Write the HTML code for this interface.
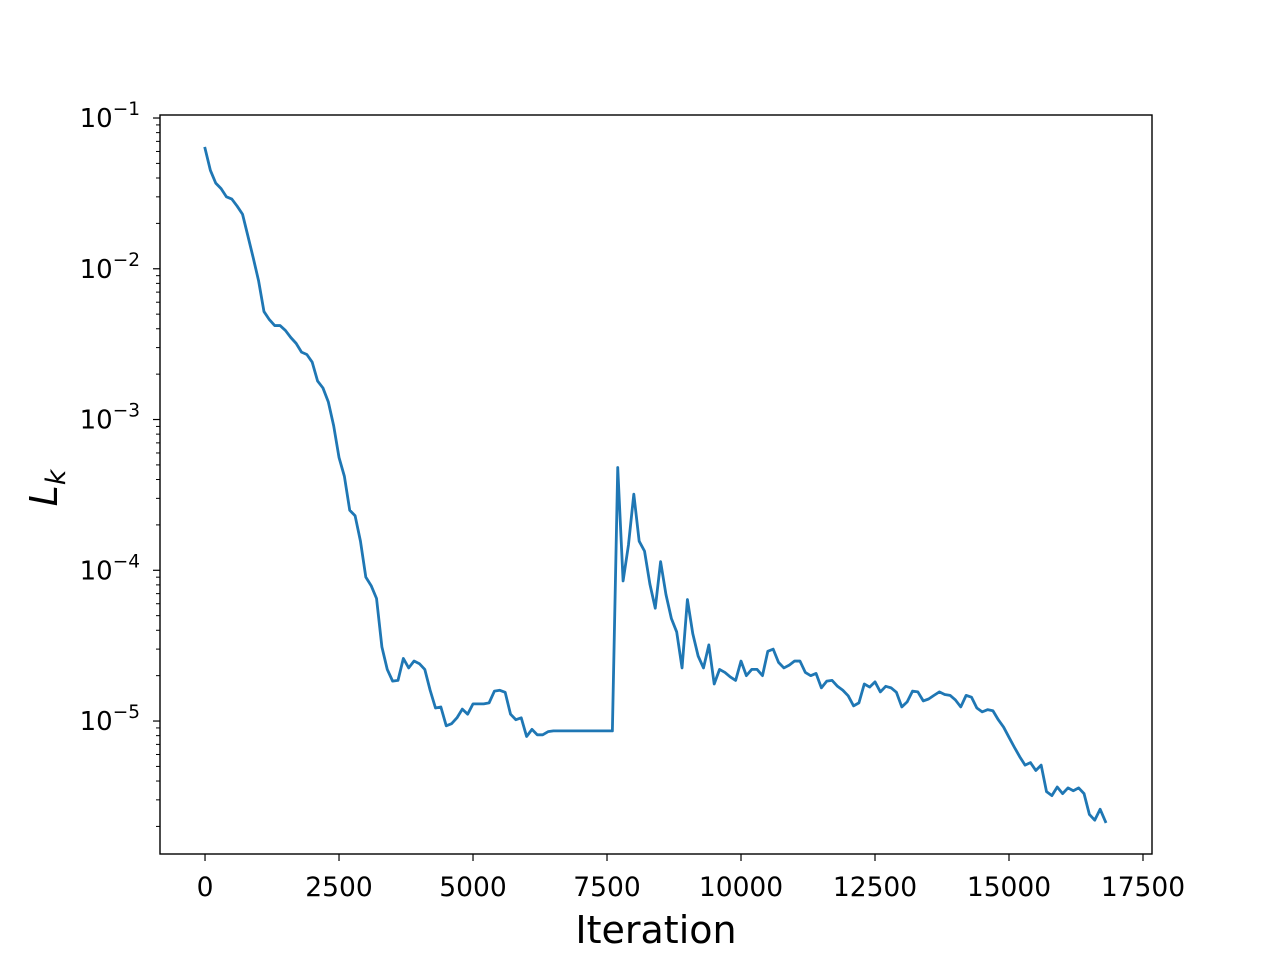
<!DOCTYPE html>
<html><head><meta charset="utf-8"><style>
html,body{margin:0;padding:0;background:#fff;}
svg{display:block;font-family:"DejaVu Sans","Liberation Sans",sans-serif;}
</style></head><body>
<svg id="chart" width="1280" height="960" xmlns="http://www.w3.org/2000/svg"></svg>
<script>
const xTicks = [0, 2500, 5000, 7500, 10000, 12500, 15000, 17500];
const xTickLabels = ["0","2500","5000","7500","10000","12500","15000","17500"];
const yTickExps = [-1, -2, -3, -4, -5];
const stepIter = 100;
const lossValues = [
6.3e-2,4.5e-2,3.7e-2,3.4e-2,3.0e-2,2.9e-2,2.6e-2,2.3e-2,1.65e-2,1.18e-2,
8.3e-3,5.2e-3,4.6e-3,4.2e-3,4.2e-3,3.9e-3,3.5e-3,3.2e-3,2.8e-3,2.7e-3,
2.4e-3,1.8e-3,1.62e-3,1.31e-3,9.1e-4,5.6e-4,4.2e-4,2.5e-4,2.3e-4,1.56e-4,
9.0e-5,7.9e-5,6.5e-5,3.1e-5,2.2e-5,1.84e-5,1.86e-5,2.6e-5,2.25e-5,2.5e-5,
2.4e-5,2.2e-5,1.6e-5,1.22e-5,1.24e-5,9.3e-6,9.6e-6,1.05e-5,1.2e-5,1.11e-5,
1.3e-5,1.3e-5,1.3e-5,1.32e-5,1.58e-5,1.6e-5,1.55e-5,1.11e-5,1.02e-5,1.05e-5,
7.9e-6,8.8e-6,8.1e-6,8.1e-6,8.5e-6,8.6e-6,
8.6e-6,8.6e-6,8.6e-6,8.6e-6,8.6e-6,8.6e-6,8.6e-6,8.6e-6,8.6e-6,8.6e-6,8.6e-6,
4.8e-4,8.5e-5,1.47e-4,3.2e-4,1.56e-4,1.34e-4,8.1e-5,5.6e-5,1.14e-4,6.9e-5,
4.8e-5,3.9e-5,2.25e-5,6.4e-5,3.8e-5,2.7e-5,2.25e-5,3.2e-5,1.76e-5,2.2e-5,
2.1e-5,1.96e-5,1.86e-5,2.5e-5,2.0e-5,2.2e-5,2.2e-5,2.0e-5,2.9e-5,3.0e-5,
2.45e-5,2.25e-5,2.35e-5,2.5e-5,2.5e-5,2.1e-5,2.0e-5,2.07e-5,1.66e-5,1.84e-5,
1.86e-5,1.7e-5,1.6e-5,1.47e-5,1.26e-5,1.32e-5,1.76e-5,1.68e-5,1.82e-5,1.56e-5,
1.7e-5,1.66e-5,1.55e-5,1.24e-5,1.34e-5,1.58e-5,1.56e-5,1.36e-5,1.4e-5,1.48e-5,
1.56e-5,1.5e-5,1.48e-5,1.38e-5,1.24e-5,1.48e-5,1.44e-5,1.22e-5,1.15e-5,1.19e-5,
1.17e-5,1.02e-5,9.1e-6,7.8e-6,6.7e-6,5.8e-6,5.1e-6,5.3e-6,4.7e-6,5.1e-6,
3.4e-6,3.2e-6,3.65e-6,3.3e-6,3.6e-6,3.45e-6,3.6e-6,3.3e-6,2.4e-6,2.2e-6,
2.6e-6,2.15e-6];
const iterations = lossValues.map((v,i)=>i*stepIter);

const svg = document.getElementById('chart');
const NS = 'http://www.w3.org/2000/svg';
const L=160,R=1152,T=115,B=854;
const xMin=-840,xMax=17668,yTop=-0.980,yBot=-5.882;
const xs = v => L + (v-xMin)/(xMax-xMin)*(R-L);
const ys = v => T + (yTop-Math.log10(v))/(yTop-yBot)*(B-T);
function mk(tag, attrs){const e=document.createElementNS(NS,tag);for(const k in attrs)e.setAttribute(k,attrs[k]);svg.appendChild(e);return e;}

const pts = iterations.map((x,i)=>xs(x).toFixed(2)+','+ys(lossValues[i]).toFixed(2)).join(' ');
const line = mk('polyline',{points:pts,fill:'none',stroke:'#1f77b4','stroke-width':2.8,'stroke-linejoin':'round','stroke-linecap':'square'});



const frame = mk('rect',{x:L,y:T,width:R-L,height:B-T,fill:'none',stroke:'#000','stroke-width':1.4});



xTicks.forEach((t,i)=>{
  const x=xs(t);
  const tk = mk('line',{x1:x,x2:x,y1:B,y2:B+7,stroke:'#000','stroke-width':1.2});
  
  
  const tx = mk('text',{x:x,y:B+42,'text-anchor':'middle','font-size':'26.5px',fill:'#000'});
  tx.textContent = xTickLabels[i];
  
  
});
yTickExps.forEach(e=>{
  const y=ys(Math.pow(10,e));
  const tk = mk('line',{x1:L-7,x2:L,y1:y,y2:y,stroke:'#000','stroke-width':1.2});
  
  
  const tx = mk('text',{x:140,y:y+9,'text-anchor':'end','font-size':'26px',fill:'#000'});
  tx.innerHTML = '10<tspan dy="-12" font-size="18.5px">\u2212' + (-e) + '</tspan>';
  
  
});
for(let e=-6;e<=-1;e++){for(let m=2;m<=9;m++){const v=m*Math.pow(10,e);const y=ys(v);if(y<T||y>B)continue;
  const tk = mk('line',{x1:L-4,x2:L,y1:y,y2:y,stroke:'#000','stroke-width':1});
  
  
}}
const xl = mk('text',{x:(L+R)/2,y:943,'text-anchor':'middle','font-size':'38px',fill:'#000'});
xl.textContent='Iteration';


const yl = mk('text',{x:0,y:0,transform:'translate(57,488) rotate(-90)','text-anchor':'middle','font-size':'38px','font-style':'italic',fill:'#000'});
yl.innerHTML='L<tspan dy="8" font-size="27px">k</tspan>';


</script>
</body></html>
